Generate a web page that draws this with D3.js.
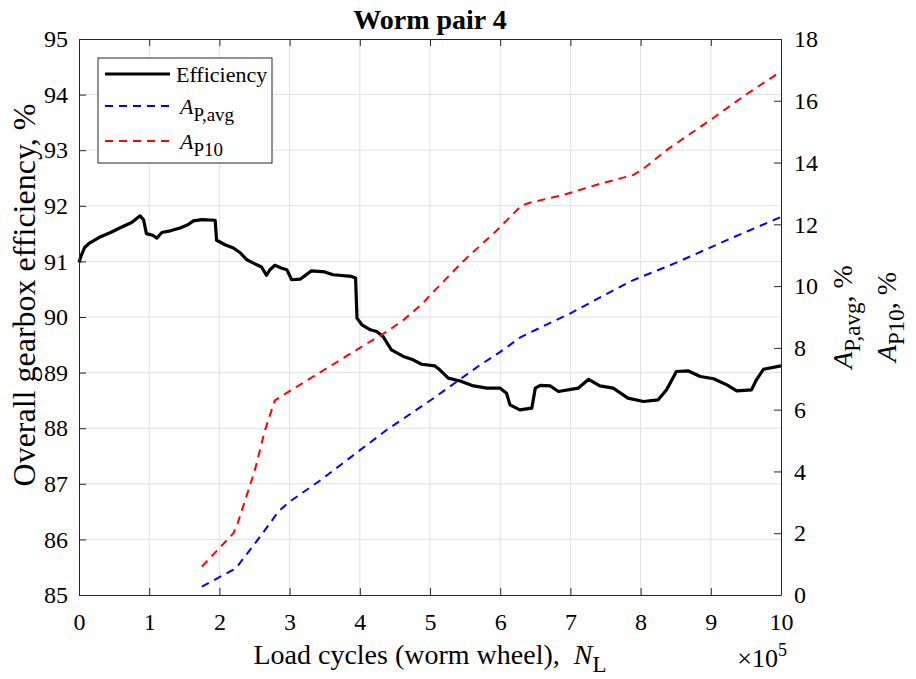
<!DOCTYPE html>
<html><head><meta charset="utf-8">
<script src="https://cdn.jsdelivr.net/npm/d3@7"></script>
<style>
body{margin:0;background:#fff}
svg text{font-family:"Liberation Serif","Times New Roman",serif;fill:#000}
</style>
</head><body><svg id="chart" width="916" height="679"></svg>
<script>
// Load cycles in units of 1e5
const effCycles = [0.0,0.03,0.08,0.15,0.3,0.45,0.58,0.75,0.87,0.92,0.96,1.05,1.11,1.18,1.3,1.44,1.55,1.63,1.75,1.94,1.96,2.08,2.2,2.3,2.39,2.5,2.6,2.67,2.72,2.79,2.88,2.96,3.03,3.15,3.31,3.5,3.62,3.88,3.94,3.96,4.03,4.15,4.24,4.33,4.45,4.62,4.76,4.88,5.07,5.14,5.26,5.43,5.62,5.81,6.0,6.09,6.14,6.28,6.45,6.5,6.57,6.71,6.83,7.11,7.26,7.42,7.61,7.82,8.04,8.25,8.37,8.51,8.68,8.85,9.04,9.23,9.37,9.58,9.65,9.75,10.0];
const efficiency = [90.98,91.1,91.25,91.33,91.44,91.52,91.6,91.7,91.82,91.75,91.5,91.47,91.42,91.52,91.55,91.6,91.66,91.73,91.75,91.74,91.38,91.3,91.24,91.15,91.03,90.96,90.9,90.75,90.85,90.93,90.88,90.85,90.67,90.68,90.83,90.81,90.76,90.73,90.7,89.98,89.86,89.77,89.74,89.65,89.41,89.29,89.23,89.15,89.12,89.05,88.9,88.85,88.76,88.72,88.72,88.63,88.42,88.33,88.36,88.72,88.77,88.76,88.66,88.72,88.88,88.76,88.72,88.54,88.48,88.51,88.69,89.02,89.03,88.93,88.89,88.78,88.67,88.69,88.87,89.06,89.12];

const apAvgCycles = [1.75,2.2,2.27,2.45,2.6,2.84,3.0,3.43,4.38,5.05,5.71,6.0,6.3,7.0,7.85,8.5,9.23,10.0];
const apAvg = [0.27,0.82,0.97,1.5,1.95,2.7,3.02,3.7,5.34,6.37,7.44,7.87,8.36,9.12,10.15,10.75,11.49,12.24];

const ap10Cycles = [1.75,2.2,2.26,2.5,2.65,2.79,3.0,3.5,4.0,4.4,4.62,4.9,5.0,5.47,5.95,6.3,6.42,6.9,7.4,7.9,8.04,8.4,9.04,9.5,10.0];
const ap10 = [0.92,2.0,2.32,4.0,5.34,6.3,6.6,7.3,8.0,8.55,8.9,9.45,9.7,10.8,11.8,12.6,12.7,12.95,13.3,13.6,13.8,14.45,15.45,16.2,16.95];

const xTicks = [0,1,2,3,4,5,6,7,8,9,10];
const leftTicks = [85,86,87,88,89,90,91,92,93,94,95];
const rightTicks = [0,2,4,6,8,10,12,14,16,18];

const svg = d3.select("#chart");
const L=79, R=781, T=39, B=595;
const x = d3.scaleLinear().domain([0,10]).range([L,R]);
const yL = d3.scaleLinear().domain([85,95]).range([B,T]);
const yR = d3.scaleLinear().domain([0,18]).range([B,T]);
const axisCol = "#262626";
const gridCol = "#e1e1e1";

// grid
const g = svg.append("g");
g.selectAll(".gx").data(xTicks.slice(1,-1)).join("line")
  .attr("x1",d=>x(d)).attr("x2",d=>x(d)).attr("y1",T).attr("y2",B)
  .attr("stroke",gridCol).attr("stroke-width",1);
g.selectAll(".gy").data(leftTicks.slice(1,-1)).join("line")
  .attr("x1",L).attr("x2",R).attr("y1",d=>yL(d)).attr("y2",d=>yL(d))
  .attr("stroke",gridCol).attr("stroke-width",1);

// lines
const lineEff = d3.line().x((d,i)=>x(effCycles[i])).y(d=>yL(d));
svg.append("path").attr("d",lineEff(efficiency)).attr("fill","none")
  .attr("stroke","#000").attr("stroke-width",3.2).attr("stroke-linejoin","round");
const lineAvg = d3.line().x((d,i)=>x(apAvgCycles[i])).y(d=>yR(d));
svg.append("path").attr("d",lineAvg(apAvg)).attr("fill","none")
  .attr("stroke","#0000ff").attr("stroke-width",2).attr("stroke-dasharray","8,6");
const line10 = d3.line().x((d,i)=>x(ap10Cycles[i])).y(d=>yR(d));
svg.append("path").attr("d",line10(ap10)).attr("fill","none")
  .attr("stroke","#ff0000").attr("stroke-width",2).attr("stroke-dasharray","8,6");

// axes
const fs = 24;
function style(sel){
  sel.select(".domain").attr("stroke",axisCol).attr("stroke-width",1);
  sel.selectAll(".tick line").attr("stroke",axisCol);
  sel.selectAll(".tick text").style("font-size",fs+"px").attr("fill","#000");
}
svg.append("g").attr("transform",`translate(0,${B})`)
  .call(d3.axisBottom(x).tickValues(xTicks).tickFormat(d3.format("d")).tickSizeInner(-7).tickSizeOuter(0).tickPadding(18))
  .call(style);
svg.append("g").attr("transform",`translate(0,${T})`)
  .call(d3.axisTop(x).tickValues(xTicks).tickFormat("").tickSizeInner(-7).tickSizeOuter(0))
  .call(style);
svg.append("g").attr("transform",`translate(${L},0)`)
  .call(d3.axisLeft(yL).tickValues(leftTicks).tickFormat(d3.format("d")).tickSizeInner(-7).tickSizeOuter(0).tickPadding(11))
  .call(style);
svg.append("g").attr("transform",`translate(${R},0)`)
  .call(d3.axisRight(yR).tickValues(rightTicks).tickFormat(d3.format("d")).tickSizeInner(-7).tickSizeOuter(0).tickPadding(13))
  .call(style);

// title
svg.append("text").attr("x",(L+R)/2).attr("y",29).attr("text-anchor","middle")
  .style("font-size","28px").style("font-weight","bold").text("Worm pair 4");

// x label
const xl = svg.append("text").attr("x",(L+R)/2).attr("y",664).attr("text-anchor","middle").style("font-size","28px");
xl.append("tspan").text("Load cycles (worm wheel),\u00a0\u00a0");
xl.append("tspan").style("font-style","italic").text("N");
xl.append("tspan").attr("dy",8).style("font-size","23px").text("L");
const x5 = svg.append("text").attr("x",R+6).attr("y",667).attr("text-anchor","end").style("font-size","26px");
x5.append("tspan").text("\u00d710");
x5.append("tspan").attr("dy",-11).style("font-size","18px").text("5");

// left y label
svg.append("text").attr("transform",`translate(35,295) rotate(-90)`).attr("text-anchor","middle")
  .style("font-size","32px").text("Overall gearbox efficiency, %");

// right y labels
function rlab(xp, sub){
  const t = svg.append("text").attr("transform",`translate(${xp},${(T+B)/2}) rotate(-90)`).attr("text-anchor","middle").style("font-size","28px");
  t.append("tspan").style("font-style","italic").text("A");
  t.append("tspan").attr("dy",8).style("font-size","23px").text(sub);
  t.append("tspan").attr("dy",-8).text(", %");
}
rlab(852,"P,avg");
rlab(896,"P10");

// legend
const lg = svg.append("g");
lg.append("rect").attr("x",98).attr("y",58).attr("width",174).attr("height",105)
  .attr("fill","#fff").attr("stroke",axisCol).attr("stroke-width",1);
const items = [
  {c:"#000",w:3.2,d:null,t:"Efficiency",sub:null,y:74},
  {c:"#0000ff",w:2,d:"8,6",t:"A",sub:"P,avg",y:106},
  {c:"#ff0000",w:2,d:"8,6",t:"A",sub:"P10",y:141}
];
items.forEach(it=>{
  lg.append("line").attr("x1",105).attr("x2",170).attr("y1",it.y).attr("y2",it.y)
    .attr("stroke",it.c).attr("stroke-width",it.w).attr("stroke-dasharray",it.d);
  const t = lg.append("text").attr("x",176).attr("y",it.y+8).style("font-size","22px");
  if(it.sub){
    t.append("tspan").attr("x",180).style("font-style","italic").text(it.t);
    t.append("tspan").attr("dy",7).style("font-size","19px").text(it.sub);
  } else t.text(it.t);
});
</script></body></html>
